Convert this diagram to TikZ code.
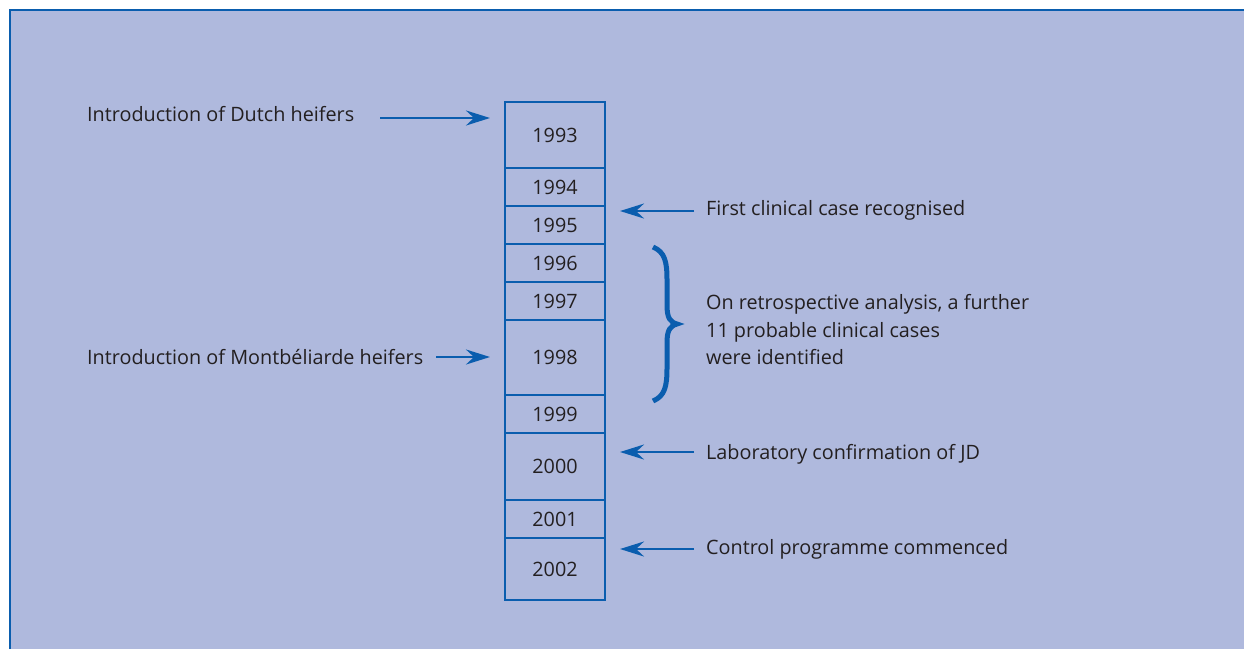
\documentclass[tikz,border=0pt]{standalone}
\usepackage{fontspec}
\setmainfont{Open Sans}
\usetikzlibrary{arrows.meta}
\definecolor{bgc}{HTML}{AFB9DD}
\definecolor{bl}{HTML}{0A5DAE}
\definecolor{tx}{HTML}{231F20}
\tikzset{
  lbl/.style={text=tx,font=\fontsize{19.8}{27.5}\selectfont,inner sep=0pt,anchor=west,align=left},
  yr/.style={text=tx,font=\fontsize{19.8}{22}\selectfont,draw=bl,line width=1.3pt,minimum width=100pt,inner sep=0pt,outer sep=0pt,anchor=north},
  arr/.style={bl,line width=2.6pt,-{Stealth[length=24pt,width=15pt,inset=8pt]}},
}
\begin{document}
\begin{tikzpicture}[x=1pt,y=-1pt]
\useasboundingbox (0,0) rectangle (1244,649);
\fill[white] (0,0) rectangle (1244,649);
\fill[bgc] (10,10) rectangle (1244,649);
\draw[bl,line width=2.6pt] (10,649) -- (10,10) -- (1244,10);
% year cells
\node[yr,minimum height=66pt] (y1993) at (555,102) {1993};
\node[yr,minimum height=38pt] (y1994) at (y1993.south) {1994};
\node[yr,minimum height=38pt] (y1995) at (y1994.south) {1995};
\node[yr,minimum height=38pt] (y1996) at (y1995.south) {1996};
\node[yr,minimum height=38pt] (y1997) at (y1996.south) {1997};
\node[yr,minimum height=75pt] (y1998) at (y1997.south) {1998};
\node[yr,minimum height=38pt] (y1999) at (y1998.south) {1999};
\node[yr,minimum height=67pt] (y2000) at (y1999.south) {2000};
\node[yr,minimum height=38pt] (y2001) at (y2000.south) {2001};
\node[yr,minimum height=62pt] (y2002) at (y2001.south) {2002};
\draw[bl,line width=2.6pt] (y1993.north west) rectangle (y2002.south east);
% left labels
\node[lbl] (dutch) at (87,114) {Introduction of Dutch heifers};
\node[lbl] (mont) at (87,357) {Introduction of Montbéliarde heifers};
\coordinate (dutchA) at (380,118);
\coordinate (dutchB) at (490,118);
\coordinate (montA) at (436,357);
\coordinate (montB) at (490,357);
\draw[arr] (dutchA) -- (dutchB);
\draw[arr] (montA) -- (montB);
% right labels
\node[lbl] (first) at (706,210) {First clinical case recognised};
\node[lbl] (retro) at (706,330) {On retrospective analysis, a further\\11 probable clinical cases\\were identified};
\node[lbl] (lab) at (706,454) {Laboratory confirmation of JD};
\node[lbl] (ctrl) at (706,549) {Control programme commenced};
\coordinate (firstA) at (694,211);
\coordinate (firstB) at (620,211);
\coordinate (labA) at (694,452);
\coordinate (labB) at (620,452);
\coordinate (ctrlA) at (694,549);
\coordinate (ctrlB) at (620,549);
\draw[arr] (firstA) -- (firstB);
\draw[arr] (labA) -- (labB);
\draw[arr] (ctrlA) -- (ctrlB);
% brace
\coordinate (brT) at (653,247);
\coordinate (brM) at (677,324);
\coordinate (brB) at (653,401);
\draw[bl,line width=5pt] (brT) .. controls (665,252) and (667,262) .. (667,280)
  -- (667,305) .. controls (667,318) and (670,322) .. (brM)
  .. controls (670,326) and (667,330) .. (667,343) -- (667,368)
  .. controls (667,386) and (665,396) .. (brB);
\end{tikzpicture}
\end{document}
